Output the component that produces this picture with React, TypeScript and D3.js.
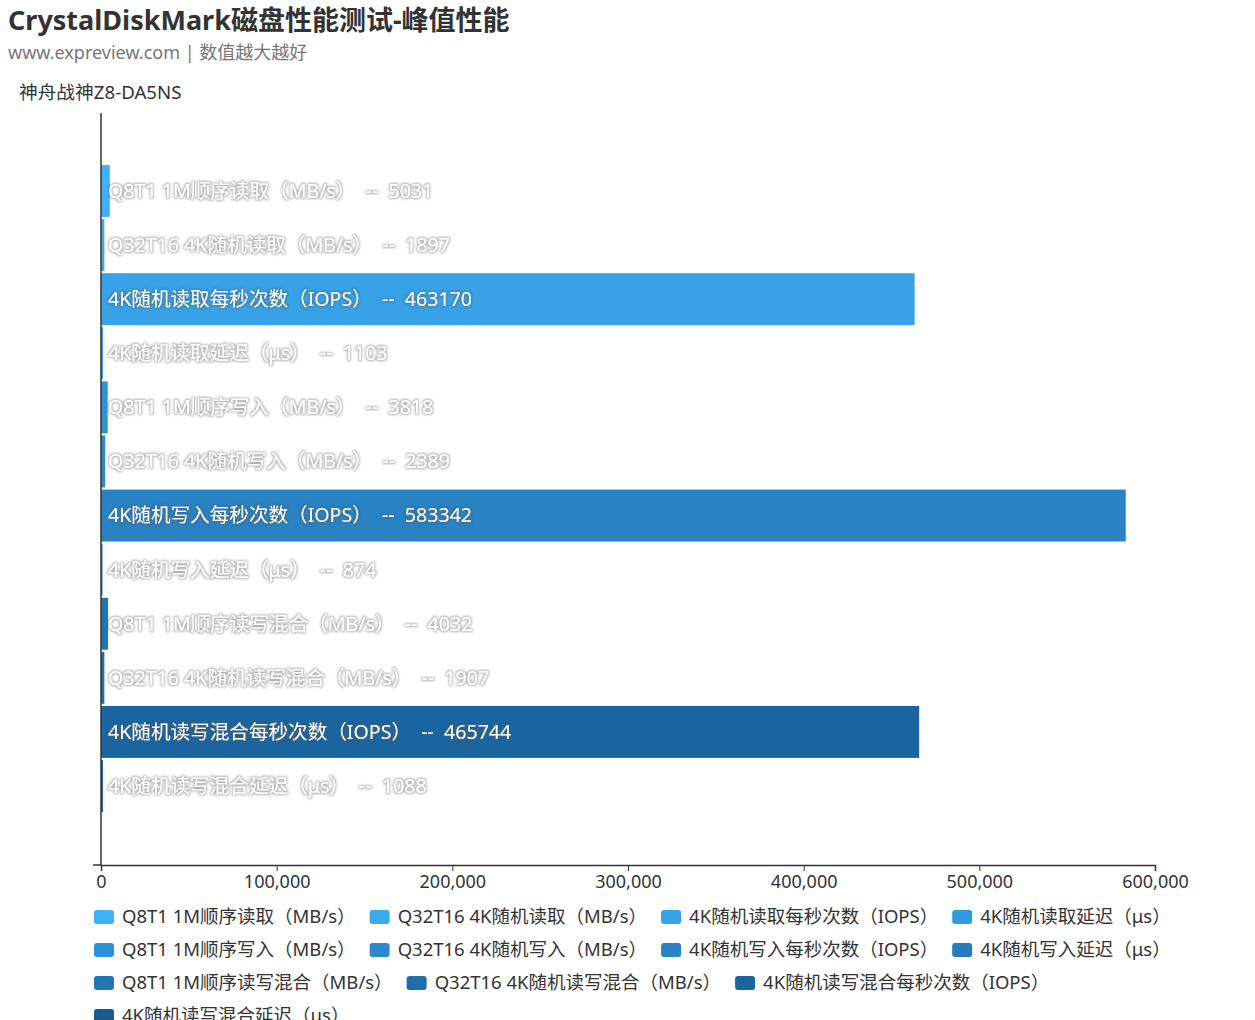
import React, { useEffect, useRef } from "react";
import * as d3 from "d3";

const seriesNames = [
  "Q8T1 1M顺序读取（MB/s）",
  "Q32T16 4K随机读取（MB/s）",
  "4K随机读取每秒次数（IOPS）",
  "4K随机读取延迟（μs）",
  "Q8T1 1M顺序写入（MB/s）",
  "Q32T16 4K随机写入（MB/s）",
  "4K随机写入每秒次数（IOPS）",
  "4K随机写入延迟（μs）",
  "Q8T1 1M顺序读写混合（MB/s）",
  "Q32T16 4K随机读写混合（MB/s）",
  "4K随机读写混合每秒次数（IOPS）",
  "4K随机读写混合延迟（μs）",
];
const seriesValues = [5031, 1897, 463170, 1103, 3818, 2389, 583342, 874, 4032, 1907, 465744, 1088];
const seriesColors = [
  "#40b1f6", "#3caaef", "#37a2e7", "#339adf",
  "#2f92d6", "#2b8acd", "#2882c4", "#257bbb",
  "#2274b2", "#1f6da9", "#1a65a0", "#165b8f",
];
const xTicks = [0, 100000, 200000, 300000, 400000, 500000, 600000];
const categoryName = "神舟战神Z8-DA5NS";

const FONT = "'Noto Sans', 'Noto Sans CJK SC', sans-serif";

const App = () => {
  const svgRef = useRef<SVGSVGElement | null>(null);
  const w = 1255;
  const h = 1020;
  const m = { top: 113, left: 101, right: 100, bottom: 155 };

  useEffect(() => {
    document.body.style.margin = "0";
    const svg = d3.select(svgRef.current);
    svg.selectAll("*").remove();
    svg.attr("viewBox", `0 0 ${w} ${h}`).style("background", "#fff").style("font-family", FONT);

    // soft grey halo behind the bar labels
    const filter = svg.append("defs").append("filter").attr("id", "halo")
      .attr("x", "-5%").attr("y", "-30%").attr("width", "110%").attr("height", "160%");
    filter.append("feMorphology").attr("in", "SourceAlpha").attr("operator", "dilate").attr("radius", 0.8).attr("result", "d");
    filter.append("feGaussianBlur").attr("in", "d").attr("stdDeviation", 1).attr("result", "b");
    filter.append("feFlood").attr("flood-color", "#555").attr("flood-opacity", 0.45);
    filter.append("feComposite").attr("in2", "b").attr("operator", "in").attr("result", "s");
    const merge = filter.append("feMerge");
    merge.append("feMergeNode").attr("in", "s");
    merge.append("feMergeNode").attr("in", "SourceGraphic");

    const plotBottom = h - m.bottom;
    const xScale = d3.scaleLinear().domain([0, 600000]).range([m.left, w - m.right]);
    // one category, bars of each series grouped inside
    const band = d3.scaleBand().domain(["g"]).range([m.top, plotBottom]);
    const inner = d3
      .scaleBand()
      .domain(seriesNames)
      .range([band("g")! + 52, band("g")! + band.bandwidth() - 53])
      .paddingInner(0.04);

    // title
    svg.append("text").attr("x", 8).attr("y", 30).text("CrystalDiskMark磁盘性能测试-峰值性能")
      .style("font-size", "27px").style("font-weight", "bold").style("fill", "#333");
    svg.append("text").attr("x", 8).attr("y", 59).text("www.expreview.com | 数值越大越好")
      .style("font-size", "18px").style("fill", "#777");
    svg.append("text").attr("x", 19).attr("y", 99).text(categoryName)
      .style("font-size", "18.7px").style("fill", "#333");

    // bars
    const bars = svg.append("g");
    bars.selectAll("rect")
      .data(seriesNames)
      .enter()
      .append("rect")
      .attr("x", xScale(0))
      .attr("y", (d) => inner(d)!)
      .attr("width", (d, i) => xScale(seriesValues[i]) - xScale(0))
      .attr("height", inner.bandwidth())
      .attr("fill", (d, i) => seriesColors[i]);

    bars.selectAll("text")
      .data(seriesNames)
      .enter()
      .append("text")
      .attr("x", xScale(0) + 7)
      .attr("y", (d) => inner(d)! + inner.bandwidth() / 2)
      .attr("dy", "0.35em")
      .attr("xml:space", "preserve")
      .attr("filter", "url(#halo)")
      .style("white-space", "pre")
      .style("font-size", "19.6px")
      .style("fill", "#fff")
      .text((d, i) => `${d}  --  ${seriesValues[i]}`);

    // axes
    const xAxis = svg.append("g").attr("transform", `translate(0, ${plotBottom})`);
    xAxis.call(
      d3.axisBottom(xScale).tickValues(xTicks).tickSize(6).tickFormat((d) => d3.format(",")(d as number))
    );
    xAxis.select(".domain").attr("stroke", "#333").attr("stroke-width", 1.5);
    xAxis.selectAll(".tick line").attr("stroke", "#333");
    xAxis.selectAll(".tick text")
      .style("font-size", "18px").style("fill", "#333").style("font-family", FONT).attr("y", 10);

    svg.append("line")
      .attr("x1", m.left).attr("x2", m.left).attr("y1", m.top).attr("y2", plotBottom)
      .attr("stroke", "#333").attr("stroke-width", 1.5);
    svg.append("line")
      .attr("x1", m.left - 8).attr("x2", m.left).attr("y1", plotBottom).attr("y2", plotBottom)
      .attr("stroke", "#333").attr("stroke-width", 1.5);

    // legend
    const legend = svg.append("g");
    const maxX = 1185;
    let lx = 94;
    let ly = 917;
    seriesNames.forEach((name, i) => {
      const item = legend.append("g");
      item.append("rect")
        .attr("x", 0).attr("y", -7).attr("width", 20).attr("height", 14).attr("rx", 3)
        .attr("fill", seriesColors[i]);
      const t = item.append("text").attr("x", 28).attr("dy", "0.35em").text(name)
        .style("font-size", "18.5px").style("fill", "#333");
      const tw = (t.node() as SVGTextElement).getComputedTextLength();
      const iw = 28 + tw;
      if (lx + iw > maxX) {
        lx = 94;
        ly += 33;
      }
      item.attr("transform", `translate(${lx}, ${ly})`);
      lx += iw + 14;
    });
  }, []);

  return <svg ref={svgRef} width={w} height={h} style={{ display: "block" }}></svg>;
};

export default App;
